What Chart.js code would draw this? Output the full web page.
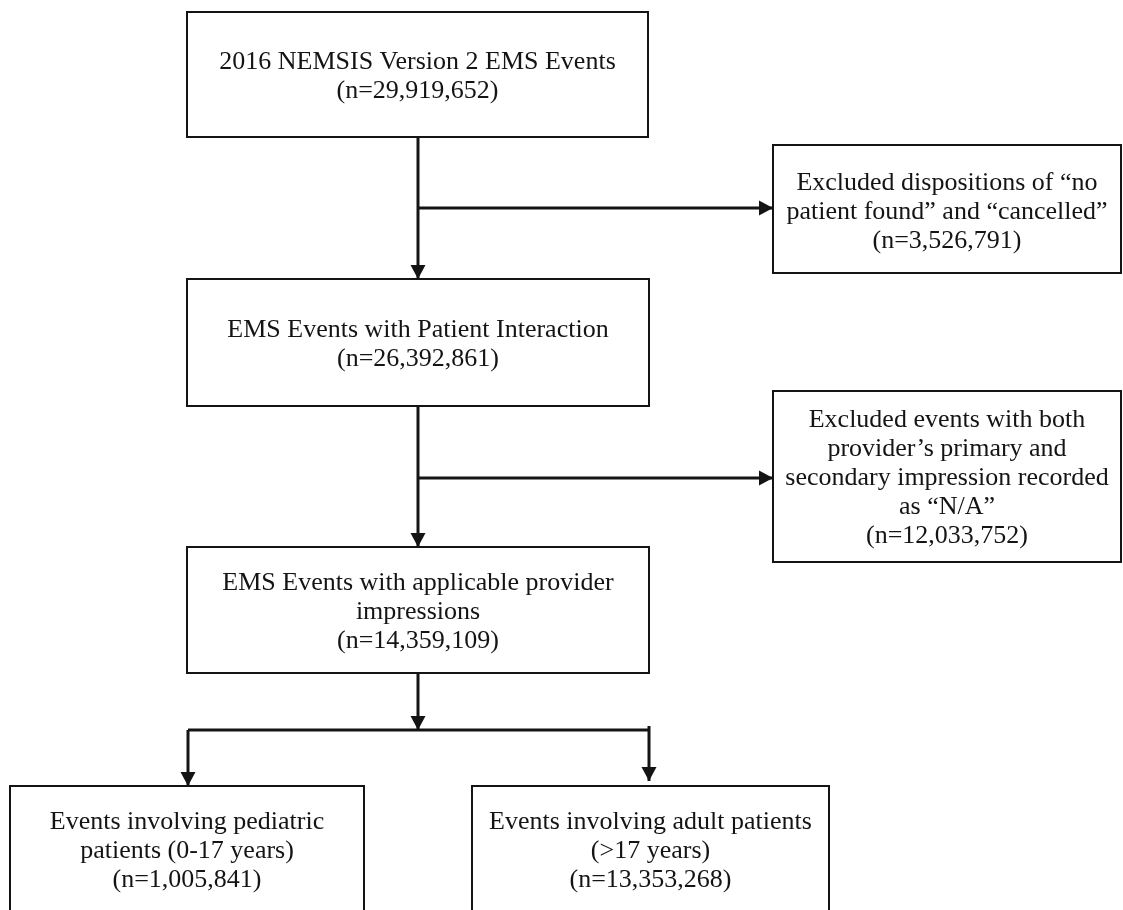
<!DOCTYPE html>
<html>
<head>
<meta charset="utf-8">
<script src="https://cdn.jsdelivr.net/npm/chart.js@4/dist/chart.umd.min.js"></script>
<style>
  html, body { margin: 0; padding: 0; background: #fff; }
  #wrap { width: 1123px; height: 910px; }
</style>
</head>
<body>
<div id="wrap"><canvas id="flow" width="1123" height="910"></canvas></div>
<script>
// --- flowchart content ---
const stepLabels = [
  ["2016 NEMSIS Version 2 EMS Events"],
  ["Excluded dispositions of “no", "patient found” and “cancelled”"],
  ["EMS Events with Patient Interaction"],
  ["Excluded events with both", "provider’s primary and", "secondary impression recorded", "as “N/A”"],
  ["EMS Events with applicable provider", "impressions"],
  ["Events involving pediatric", "patients (0-17 years)"],
  ["Events involving adult patients", "(>17 years)"],
];
const stepCounts = [29919652, 3526791, 26392861, 12033752, 14359109, 1005841, 13353268];

// --- layout (page units, mapped through the chart scales) ---
// [left, top, right, bottom]
const boxFrames = [
  [187, 12, 648, 137],
  [773, 145, 1121, 273],
  [187, 279, 649, 406],
  [773, 391, 1121, 562],
  [187, 547, 649, 673],
  [10, 786, 364, 940],
  [472, 786, 829, 940],
];
// the two bottom boxes run off the page, so their text sits at a fixed height
const textMidY = [null, 210, null, null, null, 849, 849];

// connector polylines, arrowhead at the last point when arrow is true
const links = [
  { pts: [[418, 137], [418, 279]], arrow: true },
  { pts: [[418, 208], [773, 208]], arrow: true },
  { pts: [[418, 406], [418, 547]], arrow: true },
  { pts: [[418, 478], [773, 478]], arrow: true },
  { pts: [[418, 673], [418, 730]], arrow: true },
  { pts: [[188, 730], [649, 730]], arrow: false },
  { pts: [[188, 730], [188, 786]], arrow: true },
  { pts: [[649, 726], [649, 781]], arrow: true },
];

const FONT_SIZE = 26;
const LINE_H = 29;
const INK = "#141414";

const fmt = (n) => "(n=" + n.toLocaleString("en-US") + ")";

const flowPlugin = {
  id: "flow",
  afterDraw(chart) {
    const { ctx, scales } = chart;
    const px = (v) => scales.x.getPixelForValue(v);
    const py = (v) => scales.y.getPixelForValue(v);

    ctx.save();
    ctx.strokeStyle = INK;
    ctx.fillStyle = INK;

    // boxes
    ctx.lineWidth = 2;
    boxFrames.forEach((b) => {
      const x0 = px(b[0]), y0 = py(b[1]), x1 = px(b[2]), y1 = py(b[3]);
      ctx.strokeRect(x0, y0, x1 - x0, y1 - y0);
    });

    // connectors
    ctx.lineWidth = 3;
    links.forEach((l) => {
      ctx.beginPath();
      l.pts.forEach((p, i) => {
        const x = px(p[0]), y = py(p[1]);
        if (i === 0) ctx.moveTo(x, y); else ctx.lineTo(x, y);
      });
      ctx.stroke();
      if (l.arrow) {
        const a = l.pts[l.pts.length - 2], b = l.pts[l.pts.length - 1];
        const ax = px(a[0]), ay = py(a[1]), bx = px(b[0]), by = py(b[1]);
        const ang = Math.atan2(by - ay, bx - ax);
        const len = 14, half = 7.5;
        ctx.beginPath();
        ctx.moveTo(bx, by);
        ctx.lineTo(bx - len * Math.cos(ang) + half * Math.sin(ang), by - len * Math.sin(ang) - half * Math.cos(ang));
        ctx.lineTo(bx - len * Math.cos(ang) - half * Math.sin(ang), by - len * Math.sin(ang) + half * Math.cos(ang));
        ctx.closePath();
        ctx.fill();
      }
    });

    // text
    ctx.font = FONT_SIZE + "px 'Liberation Serif', 'Times New Roman', serif";
    ctx.textAlign = "center";
    ctx.textBaseline = "alphabetic";
    const capHalf = FONT_SIZE * 0.662 / 2;
    stepLabels.forEach((lines, i) => {
      const all = lines.concat([fmt(stepCounts[i])]);
      const b = boxFrames[i];
      const cx = (b[0] + b[2]) / 2;
      const cy = textMidY[i] !== null ? textMidY[i] : (b[1] + b[3]) / 2;
      const first = cy - (all.length - 1) * LINE_H / 2;
      all.forEach((t, k) => {
        ctx.fillText(t, px(cx), py(first + k * LINE_H) + capHalf);
      });
    });
    ctx.restore();
  },
};

new Chart(document.getElementById("flow"), {
  type: "scatter",
  data: { datasets: [{ data: [] }] },
  options: {
    responsive: false,
    animation: false,
    devicePixelRatio: 1,
    layout: { padding: 0 },
    plugins: { legend: { display: false }, tooltip: { enabled: false } },
    scales: {
      x: { type: "linear", min: 0, max: 1123, display: false },
      y: { type: "linear", min: 0, max: 910, reverse: true, display: false },
    },
  },
  plugins: [flowPlugin],
});
</script>
</body>
</html>
